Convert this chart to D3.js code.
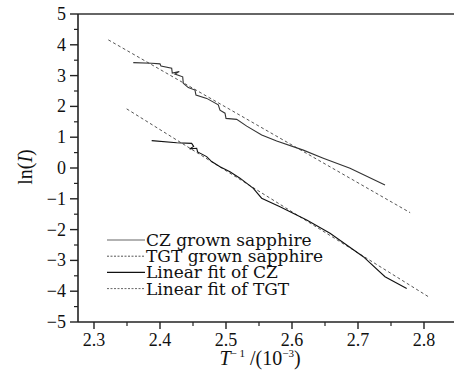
<!DOCTYPE html>
<html><head><meta charset="utf-8">
<script src="https://cdn.jsdelivr.net/npm/d3@7"></script>
<style>body{margin:0;background:#fff}svg{display:block}</style>
</head><body>
<svg id="c" width="454" height="371"></svg>
<script>
// Data
const xTicks = [2.3, 2.4, 2.5, 2.6, 2.7, 2.8];
const yTicks = [-5, -4, -3, -2, -1, 0, 1, 2, 3, 4, 5];
const czX = [2.3595,2.3874,2.4,2.4015,2.4177,2.4186,2.4292,2.4227,2.4344,2.4353,2.4429,2.453,2.4545,2.4708,2.4883,2.4909,2.4985,2.5,2.5162,2.5314,2.5541,2.5768,2.6171,2.6474,2.6879,2.7409];
const czY = [3.42,3.40,3.38,3.31,3.24,3.08,3.13,3.05,2.96,2.75,2.61,2.53,2.37,2.26,2.05,1.88,1.78,1.61,1.58,1.36,1.07,0.88,0.58,0.32,-0.01,-0.55];
const tgtX = [2.3874,2.4253,2.448,2.451,2.445,2.4556,2.457,2.4707,2.4783,2.4909,2.506,2.5212,2.5414,2.554,2.5818,2.6223,2.6576,2.708,2.7409,2.7738];
const tgtY = [0.89,0.82,0.80,0.70,0.62,0.64,0.52,0.37,0.21,0.04,-0.12,-0.33,-0.66,-0.98,-1.26,-1.69,-2.12,-2.88,-3.53,-3.91];
const fitCZX = [2.3217, 2.779];
const fitCZY = [4.16, -1.45];
const fitTGTX = [2.3495, 2.809];
const fitTGTY = [1.92, -4.21];
const legendLabels = ["CZ grown sapphire", "TGT grown sapphire", "Linear fit of CZ", "Linear fit of TGT"];

const svg = d3.select("#c");
const x = d3.scaleLinear().domain([2.3, 2.8]).range([94, 424]);
const y = d3.scaleLinear().domain([-5, 5]).range([322, 14]);
const L = 78, R = 454, T = 14, B = 322;
const tickFont = "'Liberation Serif', 'Times New Roman', serif";
const legFont = "'DejaVu Serif', serif";

// frame
svg.append("line").attr("x1", L).attr("x2", R).attr("y1", T).attr("y2", T).attr("stroke", "#333").attr("stroke-width", 1.6);

// x axis
const gx = svg.append("g").attr("transform", `translate(0,${B})`);
gx.append("line").attr("x1", L).attr("x2", R).attr("stroke", "#222").attr("stroke-width", 1.6);
const xMinor = d3.range(2.35, 2.85, 0.1);
gx.selectAll(".xm").data(xMinor).join("line").attr("x1", d => x(d)).attr("x2", d => x(d)).attr("y1", 0).attr("y2", 4).attr("stroke", "#222").attr("stroke-width", 1.2);
gx.selectAll(".xM").data(xTicks).join("line").attr("x1", d => x(d)).attr("x2", d => x(d)).attr("y1", 0).attr("y2", 7).attr("stroke", "#222").attr("stroke-width", 1.4);
gx.selectAll(".xl").data(xTicks).join("text").attr("x", d => x(d)).attr("y", 24)
  .attr("text-anchor", "middle").attr("font-family", tickFont).attr("font-size", 18).attr("fill", "#111").text(d => d.toFixed(1));

// y axis
const gy = svg.append("g").attr("transform", `translate(${L},0)`);
gy.append("line").attr("y1", T).attr("y2", B).attr("stroke", "#222").attr("stroke-width", 1.6);
const yMinor = d3.range(-4.5, 5, 1);
gy.selectAll(".ym").data(yMinor).join("line").attr("y1", d => y(d)).attr("y2", d => y(d)).attr("x1", 0).attr("x2", -4).attr("stroke", "#222").attr("stroke-width", 1.2);
gy.selectAll(".yM").data(yTicks).join("line").attr("y1", d => y(d)).attr("y2", d => y(d)).attr("x1", 0).attr("x2", -8).attr("stroke", "#222").attr("stroke-width", 1.4);
gy.selectAll(".yl").data(yTicks).join("text").attr("x", -12).attr("y", d => y(d) + 6)
  .attr("text-anchor", "end").attr("font-family", tickFont).attr("font-size", 18).attr("fill", "#111")
  .text(d => d < 0 ? "\u2212" + Math.abs(d) : String(d));

// axis titles
svg.append("text").attr("transform", "translate(32,167) rotate(-90)").attr("text-anchor", "middle")
  .attr("font-family", tickFont).attr("font-size", 20).attr("fill", "#111")
  .html('ln(<tspan font-style="italic">I</tspan>)');
const xt = svg.append("text").attr("x", 260).attr("y", 365).attr("text-anchor", "middle")
  .attr("font-family", tickFont).attr("font-size", 20).attr("fill", "#111");
xt.append("tspan").attr("font-style", "italic").text("T");
xt.append("tspan").attr("font-size", 11).attr("dy", -8).text("\u2212\u00a01");
xt.append("tspan").attr("dy", 8).text("\u00a0/(10");
xt.append("tspan").attr("font-size", 11).attr("dy", -8).text("\u22123");
xt.append("tspan").attr("dy", 8).text(")");

// lines
const line = d3.line().x(d => x(d[0])).y(d => y(d[1]));
const zip = (a, b) => a.map((v, i) => [v, b[i]]);
svg.append("path").attr("d", line(zip(fitCZX, fitCZY))).attr("fill", "none").attr("stroke", "#555").attr("stroke-width", 1).attr("stroke-dasharray", "3,2.5");
svg.append("path").attr("d", line(zip(fitTGTX, fitTGTY))).attr("fill", "none").attr("stroke", "#555").attr("stroke-width", 1).attr("stroke-dasharray", "3,2.5");
svg.append("path").attr("d", line(zip(czX, czY))).attr("fill", "none").attr("stroke", "#333").attr("stroke-width", 1.1);
svg.append("path").attr("d", line(zip(tgtX, tgtY))).attr("fill", "none").attr("stroke", "#111").attr("stroke-width", 1.1);

// legend
const legStyles = [
  {stroke: "#666", dash: null, w: 1.1},
  {stroke: "#555", dash: "2,1.5", w: 1},
  {stroke: "#111", dash: null, w: 1.2},
  {stroke: "#666", dash: "2,1.5", w: 1}
];
const lg = svg.append("g");
legendLabels.forEach((t, i) => {
  const yy = 240 + i * 16.2;
  lg.append("line").attr("x1", 107).attr("x2", 145).attr("y1", yy).attr("y2", yy)
    .attr("stroke", legStyles[i].stroke).attr("stroke-width", legStyles[i].w)
    .attr("stroke-dasharray", legStyles[i].dash);
  lg.append("text").attr("x", 146).attr("y", yy + 6).attr("font-family", legFont)
    .attr("font-size", 17).attr("fill", "#111").text(t);
});
</script>
</body></html>
